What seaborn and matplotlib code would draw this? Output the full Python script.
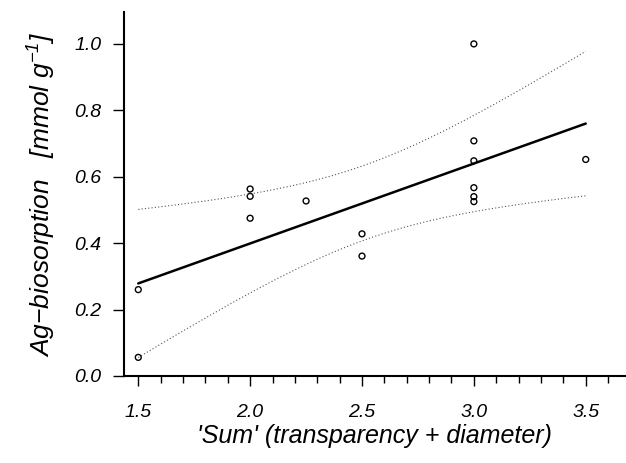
# Ag-Biosorption gegen 'Sum' (Transparenz + Durchmesser), Regression mit Konfidenzband
import matplotlib
matplotlib.use("Agg")
import matplotlib.pyplot as plt
from matplotlib.ticker import MultipleLocator
import numpy as np
import pandas as pd
import seaborn as sns

sum_score = [1.5, 1.5, 2.0, 2.0, 2.0, 2.25, 2.5, 2.5,
             3.0, 3.0, 3.0, 3.0, 3.0, 3.0, 3.5]
ag_uptake = [0.26, 0.056, 0.563, 0.541, 0.475, 0.527, 0.428, 0.361,
             1.0, 0.708, 0.648, 0.567, 0.540, 0.525, 0.652]
x_ticks = [1.5, 2.0, 2.5, 3.0, 3.5]
y_ticks = [0.0, 0.2, 0.4, 0.6, 0.8, 1.0]


def conf_band(x, y, grid, t=2.8):
    # Konfidenzband der Regressionsgeraden
    x = np.asarray(x)
    y = np.asarray(y)
    slope, icpt = np.polyfit(x, y, 1)
    resid = y - (slope * x + icpt)
    s = np.sqrt(np.sum(resid ** 2) / (len(x) - 2))
    sxx = np.sum((x - x.mean()) ** 2)
    se = s * np.sqrt(1 / len(x) + (grid - x.mean()) ** 2 / sxx)
    fit = slope * grid + icpt
    return fit - t * se, fit + t * se


sns.set_style("ticks")
plt.rcParams['font.family'] = ['Liberation Sans', 'DejaVu Sans']
plt.rcParams['font.style'] = 'italic'
plt.rcParams['mathtext.fontset'] = 'custom'
plt.rcParams['mathtext.rm'] = 'Liberation Sans:italic'
plt.rcParams['mathtext.it'] = 'Liberation Sans:italic'
for key in ['text.color', 'axes.labelcolor', 'xtick.color', 'ytick.color', 'axes.edgecolor']:
    plt.rcParams[key] = 'black'

df = pd.DataFrame({"sum": sum_score, "ag": ag_uptake})

fig = plt.figure(figsize=(6.26, 4.63), dpi=100)
ax = fig.add_axes([0.198, 0.188, 0.802, 0.786])

grid = np.linspace(min(sum_score), max(sum_score), 50)
lo, hi = conf_band(sum_score, ag_uptake, grid)
band = pd.DataFrame({"x": np.concatenate([grid, grid]),
                     "y": np.concatenate([lo, hi]),
                     "side": ["lo"] * len(grid) + ["hi"] * len(grid)})
sns.lineplot(data=band, x="x", y="y", units="side", estimator=None, ax=ax,
             color="#555555", lw=0.8, linestyle=(0, (1, 2)))

sns.regplot(data=df, x="sum", y="ag", ax=ax, scatter=False, ci=None,
            line_kws={'color': 'black', 'lw': 1.8})
sns.scatterplot(data=df, x="sum", y="ag", ax=ax, s=18, marker='o',
                facecolor='none', edgecolor='black', linewidth=1.0)

ax.set_xlim(1.436, 3.68)
ax.set_ylim(0.0, 1.096)
ax.set_xticks(x_ticks)
ax.set_yticks(y_ticks)
ax.xaxis.set_minor_locator(MultipleLocator(0.1))
ax.set_xticklabels([f"{v:.1f}" for v in x_ticks])
ax.set_yticklabels([f"{v:.1f}" for v in y_ticks])
ax.tick_params(axis='x', which='major', length=7, width=1, labelsize=14, pad=13)
ax.tick_params(axis='x', which='minor', length=5, width=1)
ax.tick_params(axis='y', length=8, width=1, labelsize=14, pad=8)
for sp in ["top", "right"]:
    ax.spines[sp].set_visible(False)
ax.spines["left"].set_linewidth(1.5)
ax.spines["bottom"].set_linewidth(1.5)

ax.set_xlabel("'Sum' (transparency + diameter)", fontsize=18, labelpad=2)
ax.set_ylabel(r"Ag$-$biosorption   [mmol g$^{-1}$]", fontsize=19, labelpad=12)

plt.savefig("out.png", dpi=100)
